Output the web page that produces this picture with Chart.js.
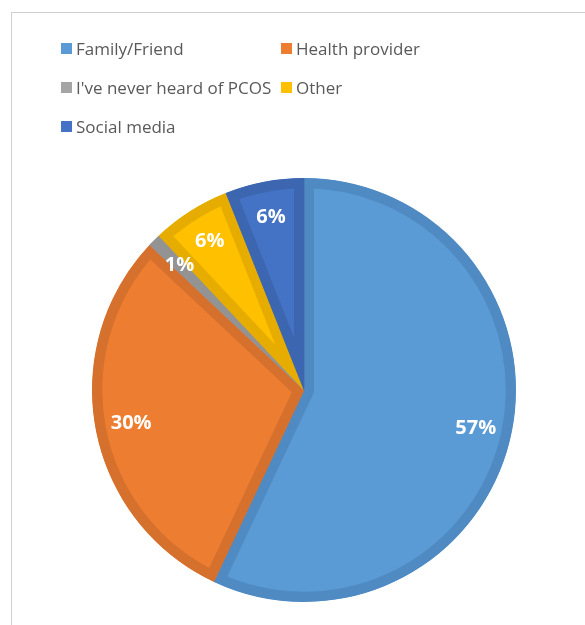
<!DOCTYPE html>
<html>
<head>
<meta charset="utf-8">
<script src="https://cdn.jsdelivr.net/npm/chart.js@4/dist/chart.umd.min.js"></script>
<style>
  html, body { margin: 0; padding: 0; background: #fff; overflow: hidden; }
  #wrap { position: relative; width: 585px; height: 625px; }
  #frame {
    position: absolute; left: 11px; top: 12px; width: 800px; height: 800px;
    border-left: 1px solid #cfcfcf; border-top: 1px solid #cfcfcf;
  }
  #chart { position: absolute; left: 0; top: 0; }
  #legend {
    position: absolute; left: 61px; top: 29px;
    display: grid; grid-template-columns: 220px 200px; row-gap: 0;
    font-family: "Open Sans", sans-serif; font-size: 17px; color: #595959;
  }
  .item { height: 39px; display: flex; align-items: center; white-space: nowrap; }
  .box { width: 11px; height: 11px; margin-right: 4px; flex: none; }
</style>
</head>
<body>
<div id="wrap">
  <div id="frame"></div>
  <canvas id="chart" width="585" height="625"></canvas>
  <div id="legend"></div>
</div>
<script>
const labels = ['Family/Friend', 'Health provider', "I've never heard of PCOS", 'Other', 'Social media'];
const values = [57, 30, 1, 6, 6];
const fillColors = ['#5b9bd5', '#ed7d31', '#a5a5a5', '#ffc000', '#4472c4'];
const edgeColors = ['#4f8ac3', '#d6702d', '#939393', '#e6ad00', '#3d66b0'];

// legend in two fixed columns like the original
const legendEl = document.getElementById('legend');
labels.forEach((name, i) => {
  const item = document.createElement('div');
  item.className = 'item';
  const box = document.createElement('span');
  box.className = 'box';
  box.style.background = fillColors[i];
  item.appendChild(box);
  item.appendChild(document.createTextNode(name));
  legendEl.appendChild(item);
});

// percentage labels drawn on each slice
const sliceLabels = {
  id: 'sliceLabels',
  afterDatasetsDraw(chart) {
    const ctx = chart.ctx;
    const meta = chart.getDatasetMeta(0);
    const total = values.reduce((a, b) => a + b, 0);
    ctx.save();
    ctx.fillStyle = '#ffffff';
    ctx.font = 'bold 20px "Open Sans", sans-serif';
    ctx.textAlign = 'center';
    ctx.textBaseline = 'middle';
    meta.data.forEach((arc, i) => {
      const p = arc.getProps(['x', 'y', 'startAngle', 'endAngle', 'outerRadius'], true);
      const mid = (p.startAngle + p.endAngle) / 2;
      const r = p.outerRadius * 0.83;
      const pct = Math.round(values[i] / total * 100) + '%';
      ctx.fillText(pct, p.x + Math.cos(mid) * r, p.y + Math.sin(mid) * r);
    });
    ctx.restore();
  }
};

new Chart(document.getElementById('chart').getContext('2d'), {
  type: 'pie',
  data: {
    labels: labels,
    datasets: [{
      data: values,
      backgroundColor: fillColors,
      borderColor: edgeColors,
      borderWidth: 10,
      borderAlign: 'inner',
      borderJoinStyle: 'miter',
      hoverOffset: 0,
    }],
  },
  options: {
    responsive: false,
    animation: false,
    layout: { padding: { left: 92, right: 69, top: 178, bottom: 23 } },
    plugins: {
      legend: { display: false },
      tooltip: { enabled: false },
    },
  },
  plugins: [sliceLabels],
});
</script>
</body>
</html>
